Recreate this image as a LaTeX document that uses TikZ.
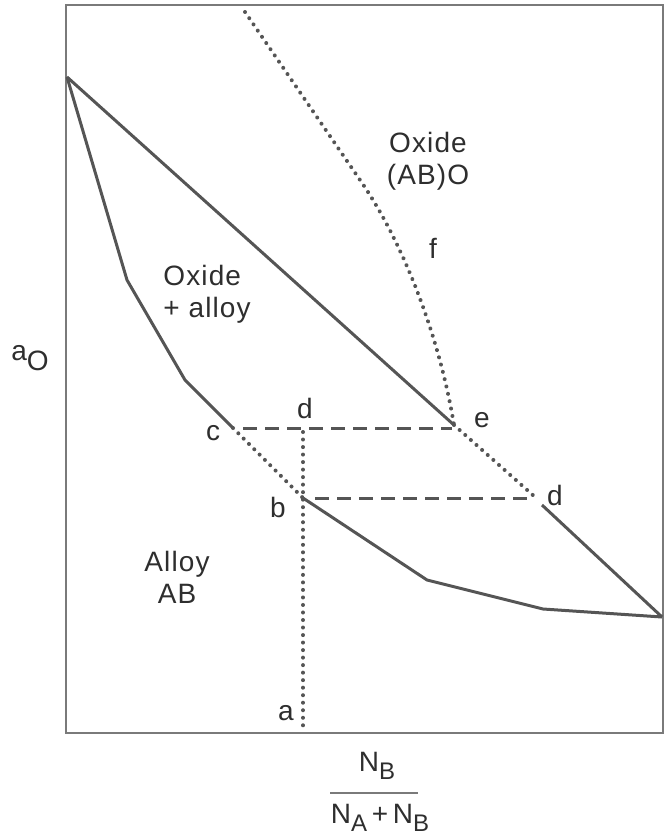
\documentclass[tikz,border=0pt]{standalone}
\usepackage{fontspec}
\setmainfont{Liberation Sans}[LetterSpace=4]
\usetikzlibrary{positioning}
\definecolor{cInk}{HTML}{2E2E2E}
\definecolor{cLine}{HTML}{555555}
\definecolor{cFrame}{HTML}{7A7A7A}
\tikzset{
  lab/.style={font=\fontsize{14}{16}\selectfont, text=cInk, inner sep=0pt},
  phase/.style={line width=1.5pt, cLine, line join=round},
  tie/.style={line width=1.5pt, cLine, dash pattern=on 7pt off 4pt},
  dots/.style={line width=2pt, cLine, line cap=round,
    dash pattern=on 0.01pt off 3.75pt},
}

\begin{document}
\begin{tikzpicture}[x=0.5pt, y=-0.5pt]
\useasboundingbox (0,0) rectangle (666,839);
% frame of the diagram
\draw[cFrame, line width=0.8pt] (66,5) rectangle (663,733);

% ==================================================== points on the phase lines
\coordinate (apex) at (67,77);
\coordinate (k1) at (127,280);
\coordinate (k2) at (185,380);
\coordinate (c) at (233,428);
\coordinate (b) at (303,498);
\coordinate (k3) at (427,580);
\coordinate (k4) at (543,609);
\coordinate (rend) at (662,617);
\coordinate (e) at (454,425);
\coordinate (d2) at (542,505);
\coordinate (ftop) at (245,12);
\coordinate (fmid) at (360,180);
\coordinate (bot) at (303,732);

% solid boundaries
\draw[phase] (apex) -- (k1) -- (k2) -- (c);
\draw[phase] (apex) -- (e);
\draw[phase] (b) -- (k3) -- (k4) -- (rend);
\draw[phase] (d2) -- (rend);

% dotted boundaries
\draw[dots] (c) -- (b);
\draw[dots] (e) -- (535,497);
\draw[dots] (ftop) -- (fmid) .. controls (405,245) and (440,340) .. (e);
\draw[dots] (303,432) -- (bot);

% tie lines
\draw[tie] (243,428) -- (452,428);
\draw[tie] (315,498) -- (529,498);

% ================================================================ labels
\node[lab, align=center] (oxab) at (428,161) {Oxide\\(AB)O};
\node[lab, align=left, anchor=west] (oxal) at (163,294) {Oxide\\+ alloy};
\node[lab, align=center] (alab) at (177,577) {Alloy\\AB};
\node[lab] (lf) at (433,248) {f};
\node[lab] (le) at (482,420) {e};
\node[lab] (lc) at (213,433) {c};
\node[lab] (ld1) at (305,408) {d};
\node[lab] (lb) at (278,507) {b};
\node[lab] (ld2) at (555,495) {d};
\node[lab] (la) at (286,713) {a};
\node[lab] (ao) at (30,358) {a\raisebox{-0.7ex}{O}};

% axis label
\node[lab] (num) at (377,766) {N\raisebox{-0.55ex}{\fontsize{12}{14}\selectfont B}};
\node[lab] (den) at (380,818) {N\raisebox{-0.55ex}{\fontsize{12}{14}\selectfont A}\,+\,N\raisebox{-0.55ex}{\fontsize{12}{14}\selectfont B}};
\coordinate (barl) at (330,793);
\coordinate (barr) at (418,793);
\draw[cFrame, line width=0.8pt] (barl) -- (barr);
\end{tikzpicture}
\end{document}
